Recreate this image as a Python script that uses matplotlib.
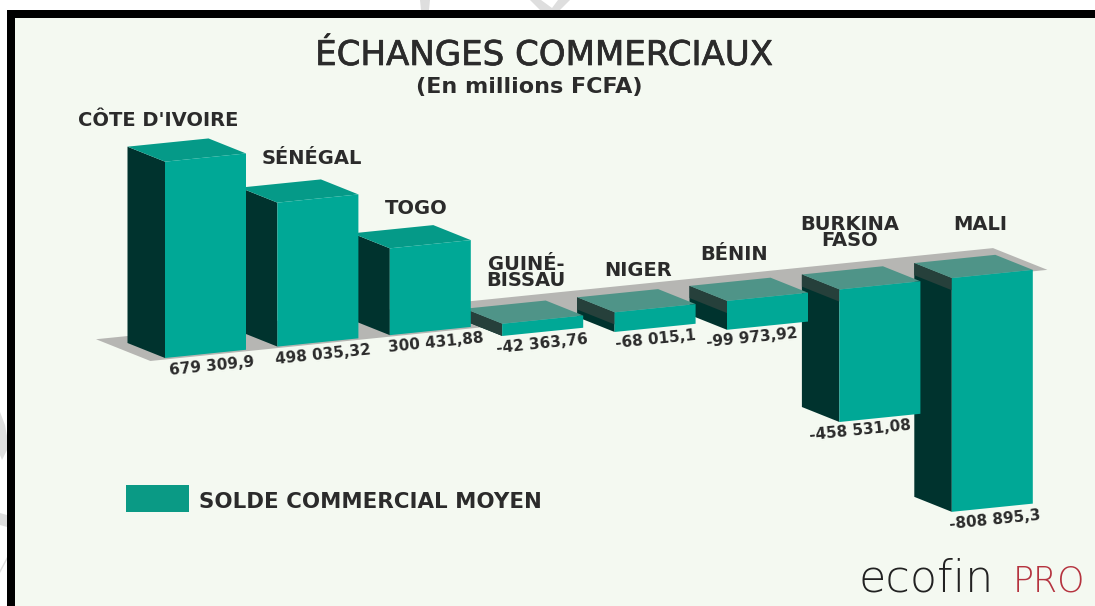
import matplotlib
matplotlib.use('Agg')
import matplotlib.pyplot as plt
import matplotlib.patheffects as pe
from matplotlib.patches import Polygon, Rectangle
from matplotlib.transforms import Affine2D

pays = ["CÔTE D'IVOIRE", "SÉNÉGAL", "TOGO", "GUINÉ-\nBISSAU", "NIGER", "BÉNIN", "BURKINA\nFASO", "MALI"]
solde = [679309.9, 498035.32, 300431.88, -42363.76, -68015.1, -99973.92, -458531.08, -808895.3]
etiquettes = ["679 309,9", "498 035,32", "300 431,88", "-42 363,76", "-68 015,1", "-99 973,92", "-458 531,08", "-808 895,3"]

W, H = 1095, 606
# scale of the drawing: pixels per category and value per pixel
PX_CAT = 112.4
VAL_PX = 3460.0
SKEW = 0.1016 * PX_CAT * VAL_PX
LARGEUR = 81 / PX_CAT
DEPTH_X = -37.5 / PX_CAT
DEPTH_Y = 15 * VAL_PX

FOND = '#f4f9f1'
FACE = '#00a896'
COTE = '#00332e'
COTE_CLAIR = '#26403b'
DESSUS_POS = '#059a88'
DESSUS_NEG = '#4f9488'
SOL = '#b6b6b3'
TEXTE = '#2b2b2b'

fig = plt.figure(figsize=(W / 100, H / 100), dpi=100, facecolor='white')
ax = fig.add_axes([0, 0, 1, 1])
ax.set_xlim(-165 / PX_CAT, (W - 165) / PX_CAT)
ax.set_ylim(-(H - 358) * VAL_PX, 358 * VAL_PX)
ax.axis('off')

# same coordinates as the picture, for frame and texts
px = Affine2D().scale(1 / W, -1 / H).translate(0, 1) + fig.transFigure


def pt(x, v, prof=0.0):
    return (x + prof * DEPTH_X, v + SKEW * x + prof * DEPTH_Y)


# watermark bits outside the frame
for morceau in ([(420, 0), (430, 0), (429, 10), (421, 10)],
                [(530, 0), (541, 0), (552, 8), (558, 0), (570, 0), (560, 10), (540, 10)],
                [(0, 412), (5, 425), (7, 436), (7, 450), (2, 460), (0, 455)],
                [(0, 513), (7, 515), (7, 527), (0, 525)],
                [(0, 570), (7, 557), (7, 560), (0, 573)]):
    ax.add_patch(Polygon(morceau, transform=px, fc='#dedede', ec='none', zorder=0))

# frame
ax.add_patch(Rectangle((7, 10), W, H, transform=px, fc='black', ec='none', zorder=0.1, clip_on=False))
ax.add_patch(Rectangle((15, 18), W, H, transform=px, fc=FOND, ec='none', zorder=0.2, clip_on=False))

# floor
x0 = -0.13
x1 = len(pays) - 1 + LARGEUR + 0.13
sol = -1.5 * VAL_PX
ax.add_patch(Polygon([pt(x0, sol), pt(x1, sol), pt(x1, sol, 1.45), pt(x0, sol, 1.45)], fc=SOL, ec='none', zorder=1))

# bars, right to left so each one covers the side of its neighbour
for i in range(len(pays) - 1, -1, -1):
    v = solde[i]
    z = 2 + (len(pays) - i) * 0.1
    haut = max(v, 0)
    bas = min(v, 0)
    ax.add_patch(Polygon([pt(i, bas), pt(i, haut), pt(i, haut, 1), pt(i, bas, 1)], fc=COTE, ec='none', zorder=z))
    if v < 0:
        bande = max(v, -42000)
        ax.add_patch(Polygon([pt(i, bande), pt(i, 0), pt(i, 0, 1), pt(i, bande, 1)], fc=COTE_CLAIR, ec='none', zorder=z))
    ax.add_patch(Polygon([pt(i, haut), pt(i + LARGEUR, haut), pt(i + LARGEUR, haut, 1), pt(i, haut, 1)],
                         fc=DESSUS_POS if v > 0 else DESSUS_NEG, ec='none', zorder=z))
    ax.add_patch(Polygon([pt(i, bas), pt(i + LARGEUR, bas), pt(i + LARGEUR, haut), pt(i, haut)],
                         fc=FACE, ec='none', zorder=z))

# value labels under the bars
decal_x = [6, 5, 6, -1, 0, -16, -20, 3]
for i, txt in enumerate(etiquettes):
    ax.annotate(txt, xy=pt(i + LARGEUR / 2, min(solde[i], 0)), xytext=(decal_x[i], -12), textcoords='offset pixels',
                ha='center', va='center', rotation=5.8, rotation_mode='anchor', fontsize=11, fontweight='bold',
                family='DejaVu Sans', color=TEXTE, zorder=10)

# country names
nom_x = [158, 312, 416, 526, 638, 734, 850, 980]
nom_y = [121, 159, 209, 273, 270, 254, 233, 225]
for n, x, y in zip(pays, nom_x, nom_y):
    ax.text(x, y, n, transform=px, ha='center', va='center', fontsize=14, fontweight='bold', family='DejaVu Sans',
            color=TEXTE, linespacing=0.8, zorder=10)

titre = ax.text(544, 65, "ÉCHANGES COMMERCIAUX", transform=px, ha='center', va='baseline', fontsize=24.5,
                family='DejaVu Sans', color=TEXTE, zorder=10)
titre.set_path_effects([pe.withStroke(linewidth=0.5, foreground=TEXTE)])
ax.text(529, 87, "(En millions FCFA)", transform=px, ha='center', va='center', fontsize=16, family='DejaVu Sans',
        fontweight='bold', color=TEXTE, zorder=10)

# legend
ax.add_patch(Rectangle((126, 485), 63, 27, transform=px, fc='#0a9a85', ec='none', zorder=3))
ax.text(199, 502, "SOLDE COMMERCIAL MOYEN", transform=px, ha='left', va='center', fontsize=15.4, fontweight='bold',
        family='DejaVu Sans', color=TEXTE, zorder=10)

# logo
ax.text(858, 591, "ecofin", transform=px, ha='left', va='baseline', fontsize=32, family='DejaVu Sans', fontweight='light',
        color='#222222', zorder=10)
ax.text(1013, 591, "PRO", transform=px, ha='left', va='baseline', fontsize=25, family='DejaVu Sans', fontweight='light',
        color='#b5333f', zorder=10)

fig.savefig('out.png', dpi=100, facecolor='white')
